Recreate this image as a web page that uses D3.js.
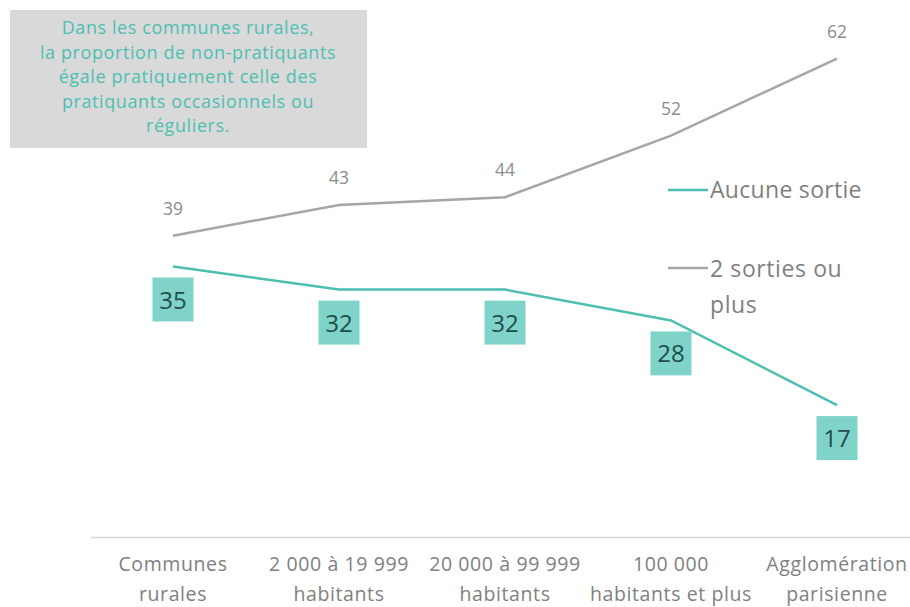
<!DOCTYPE html>
<html><head><meta charset="utf-8">
<script src="https://cdn.jsdelivr.net/npm/d3@7"></script>
<style>body{margin:0;background:#fff}svg{display:block}text{font-family:"Open Sans",Lato,sans-serif}</style>
</head><body><svg id="c" width="910" height="607"></svg>
<script>
const categories = [["Communes","rurales"],["2 000 à 19 999","habitants"],["20 000 à 99 999","habitants"],["100 000","habitants et plus"],["Agglomération","parisienne"]];
const aucune = [35, 32, 32, 28, 17];
const deuxPlus = [39, 43, 44, 52, 62];
const seriesNames = ["Aucune sortie", ["2 sorties ou","plus"]];
const noteLines = ["Dans les communes rurales,","la proportion de non-pratiquants","égale pratiquement celle des","pratiquants occasionnels ou","réguliers."];

const svg = d3.select("#c");
const teal = "#4dbfb0", gray = "#a6a6a6";
const x = d3.scaleBand().domain(d3.range(categories.length)).range([90, 920]);
const y = d3.scaleLinear().domain([0, 62]).range([536, 58.6]);
const cx = i => x(i) + x.bandwidth()/2;

// axis
const ax = svg.append("g").attr("transform","translate(0,537)")
  .call(d3.axisBottom(x).tickSize(0).tickFormat(""));
ax.select(".domain").attr("stroke","#d9d9d9").attr("stroke-width",1.5);
ax.selectAll(".tick").each(function(d){
  const t = d3.select(this).append("text").attr("fill","#808080").attr("font-size",19.5)
    .attr("letter-spacing",0.6).attr("text-anchor","middle");
  categories[d].forEach((l,k)=>t.append("tspan").attr("x",0).attr("y",34+k*30).text(l));
});

// annotation
svg.append("rect").attr("x",10).attr("y",10).attr("width",357).attr("height",138).attr("fill","#d9d9d9");
svg.append("g").selectAll("text").data(noteLines).join("text")
  .attr("x",188).attr("y",(d,i)=>34+i*24.5).attr("text-anchor","middle")
  .attr("fill",teal).attr("font-size",18).attr("letter-spacing",0.6).text(d=>d);

const line = d3.line().x((d,i)=>cx(i)).y(d=>y(d));
svg.append("path").datum(deuxPlus).attr("d",line).attr("fill","none").attr("stroke",gray).attr("stroke-width",2.5);
svg.append("path").datum(aucune).attr("d",line).attr("fill","none").attr("stroke",teal).attr("stroke-width",2.5);

svg.append("g").selectAll("text").data(deuxPlus).join("text")
  .attr("x",(d,i)=>cx(i)).attr("y",d=>y(d)-21).attr("text-anchor","middle")
  .attr("fill","#8c8c8c").attr("font-size",17.5).text(d=>d);

const lb = svg.append("g").selectAll("g").data(aucune).join("g")
  .attr("transform",(d,i)=>`translate(${cx(i)},${y(d)+33})`);
lb.append("rect").attr("x",-20.5).attr("y",-22).attr("width",41).attr("height",44).attr("fill","#80d3c8");
lb.append("text").attr("y",9).attr("text-anchor","middle").attr("fill","#1f4e4a").attr("font-size",24).text(d=>d);

// legend
const lg = svg.append("g");
lg.append("line").attr("x1",668).attr("x2",708).attr("y1",190).attr("y2",190).attr("stroke",teal).attr("stroke-width",2.5);
lg.append("text").attr("x",710).attr("y",198).attr("fill","#7f7f7f").attr("font-size",23).attr("letter-spacing",0.3).text(seriesNames[0]);
lg.append("line").attr("x1",668).attr("x2",708).attr("y1",268).attr("y2",268).attr("stroke",gray).attr("stroke-width",2.5);
const t2 = lg.append("text").attr("fill","#7f7f7f").attr("font-size",23).attr("letter-spacing",0.6);
seriesNames[1].forEach((l,k)=>t2.append("tspan").attr("x",710).attr("y",277+k*36).text(l));
</script></body></html>
